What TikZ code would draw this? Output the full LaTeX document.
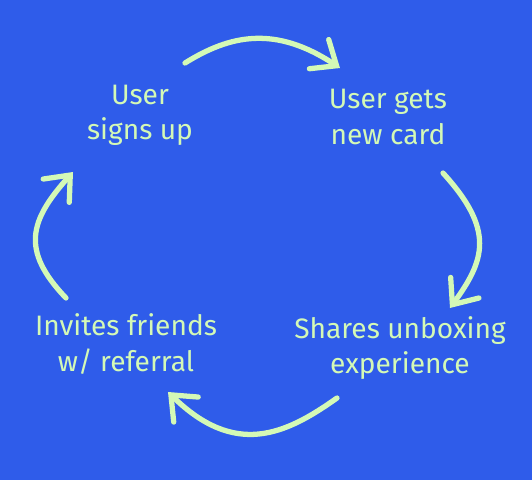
\documentclass[tikz,border=0pt]{standalone}
\usepackage{fontspec}
\setmainfont{Fira Sans}
\usepackage{tikz}
\usetikzlibrary{arrows.meta,positioning}
\definecolor{bgblue}{RGB}{47,92,234}
\definecolor{mint}{RGB}{212,249,182}

\begin{document}
\begin{tikzpicture}[
  font=\fontsize{16}{20}\selectfont, >={Straight Barb[length=4.2mm, width=7mm, line cap=round]},
  step lbl/.style={text=mint, align=center, inner sep=2pt},
  flow/.style={->, draw=mint, line width=3pt, line cap=round},
]
% background and bounds
\fill[bgblue] (0,0) rectangle (10.64,9.6);
\useasboundingbox (0,0) rectangle (10.64,9.6);

% Steps of the loop
\node[step lbl] (signup) at (2.8,7.3) {User\\signs up};
\node[step lbl] (card) at (7.76,7.26) {User gets\\new card};
\node[step lbl] (share) at (8.0,2.64) {Shares unboxing\\experience};
\node[step lbl] (invite) at (2.52,2.72) {Invites friends\\w/ referral};

% Arrow ends
\coordinate (a1) at (3.7,8.34); \coordinate (b1) at (6.8,8.24);
\coordinate (a2) at (8.86,6.14); \coordinate (b2) at (9.0,3.44);
\coordinate (a3) at (6.74,1.64); \coordinate (b3) at (3.36,1.76);
\coordinate (a4) at (1.32,3.64); \coordinate (b4) at (1.46,6.16);

% Arrows
\draw[flow] (a1) .. controls (4.6,8.9) and (5.5,9.1) .. (b1);
\draw[flow] (a2) .. controls (9.9,5.0) and (9.7,4.4) .. (b2);
\draw[flow] (a3) .. controls (5.7,0.9) and (4.7,0.45) .. (b3);
\draw[flow] (a4) .. controls (0.4,4.6) and (0.6,5.2) .. (b4);
\end{tikzpicture}
\end{document}
